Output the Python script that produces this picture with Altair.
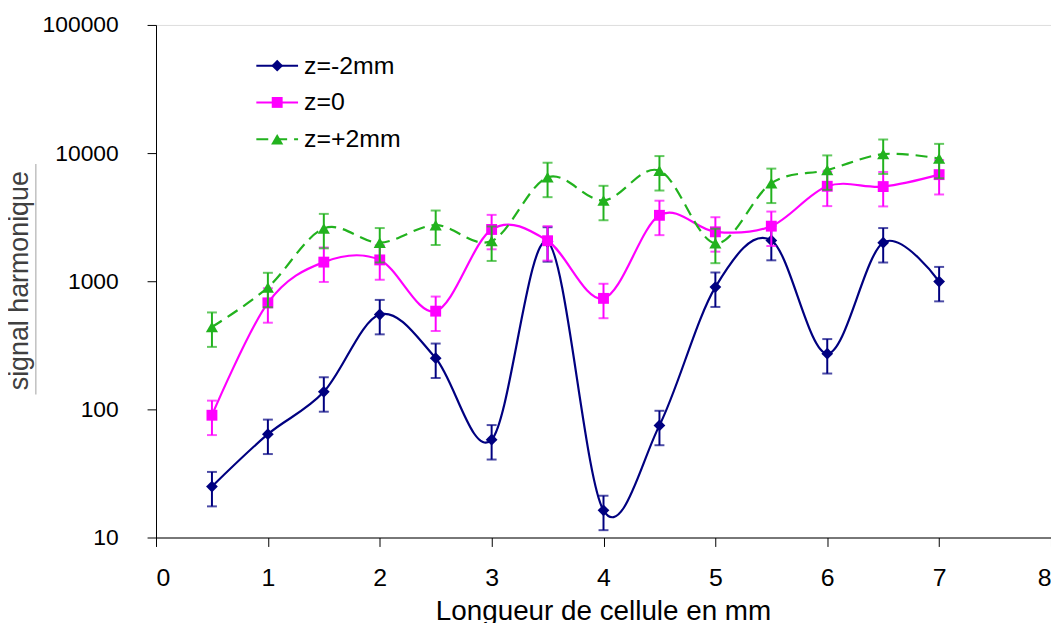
import altair as alt
import pandas as pd

# ---- data ----
x_mm = [0.5, 1, 1.5, 2, 2.5, 3, 3.5, 4, 4.5, 5, 5.5, 6, 6.5, 7]
z_minus2 = [25, 64, 137, 550, 251, 58, 2030, 16.3, 75, 900, 2080, 272, 2000, 995]
z_zero = [90, 678, 1410, 1467, 584, 2535, 2070, 735, 3270, 2430, 2690, 5510, 5480, 6790]
z_plus2 = [439, 895, 2580, 2000, 2740, 2057, 6470, 4273, 7290, 1976, 5820, 7380, 9820, 9080]

series_names = ["z=-2mm", "z=0", "z=+2mm"]
series_values = [z_minus2, z_zero, z_plus2]
colors = ["#000080", "#FF00FF", "#22B21E"]
shapes = ["diamond", "square", "triangle-up"]
marker_sizes = [140, 120, 150]
dashes = [None, None, [12, 7]]
REL_ERR = 0.30  # percentage error bars (30 %)

x_ticks = [0, 1, 2, 3, 4, 5, 6, 7, 8]
y_ticks = [10, 100, 1000, 10000, 100000]

FONT = "Liberation Sans"

xs = alt.Scale(domain=[0, 8], nice=False, zero=False)
ys = alt.Scale(type="log", domain=[10, 100000], nice=False)

x_axis = alt.Axis(
    values=x_ticks, format="d", grid=False, tickSize=9, tickColor="black",
    domainColor="black", labelFontSize=25, labelColor="black", labelPadding=19,
    labelFont=FONT, title="Longueur de cellule en mm", titleFontSize=28,
    titleFontWeight="normal", titleFont=FONT, titleColor="black", titleX=450,
    titleY=83, titleBaseline="alphabetic", titleAlign="center",
)
y_axis = alt.Axis(
    values=y_ticks, format="d", grid=False, tickSize=9, tickColor="black",
    domainColor="black", labelFontSize=23, labelColor="black", labelPadding=29,
    labelFont=FONT, title="signal harmonique", titleFontSize=27,
    titleFontWeight="normal", titleFont=FONT, titleColor="#404040",
    titleX=-129, titleY=257, titleAngle=270, titleBaseline="alphabetic",
    titleAlign="center",
)

layers = []
for i, (name, vals) in enumerate(zip(series_names, series_values)):
    df = pd.DataFrame({
        "x": x_mm,
        "y": vals,
        "lo": [v * (1 - REL_ERR) for v in vals],
        "hi": [v * (1 + REL_ERR) for v in vals],
    })
    base = alt.Chart(df)
    col = colors[i]
    err = base.mark_rule(color=col, strokeWidth=2).encode(
        x=alt.X("x:Q", scale=xs, axis=x_axis),
        y=alt.Y("lo:Q", scale=ys, axis=y_axis),
        y2="hi:Q",
    )
    cap_lo = base.mark_tick(color=col, orient="horizontal", size=10, thickness=2).encode(
        x=alt.X("x:Q", scale=xs), y=alt.Y("lo:Q", scale=ys))
    cap_hi = base.mark_tick(color=col, orient="horizontal", size=10, thickness=2).encode(
        x=alt.X("x:Q", scale=xs), y=alt.Y("hi:Q", scale=ys))
    line_kw = dict(color=col, strokeWidth=2.2, interpolate="cardinal", tension=0)
    if dashes[i]:
        line_kw["strokeDash"] = dashes[i]
    line = base.mark_line(**line_kw).encode(
        x=alt.X("x:Q", scale=xs), y=alt.Y("y:Q", scale=ys))
    pts = base.mark_point(shape=shapes[i], filled=True, size=marker_sizes[i],
                          color=col, opacity=1).encode(
        x=alt.X("x:Q", scale=xs), y=alt.Y("y:Q", scale=ys))
    layers += [err, cap_lo, cap_hi, line, pts]

# ---- legend (inside the plot, top-left) ----
legend_rows = [41, 78, 115]
for i, name in enumerate(series_names):
    ld = alt.Data(values=[{"label": name}])
    ly = legend_rows[i]
    rk = dict(color=colors[i], strokeWidth=2)
    if dashes[i]:
        rk["strokeDash"] = dashes[i]
    layers.append(alt.Chart(ld).mark_rule(**rk).encode(
        x=alt.value(101), x2=alt.value(143), y=alt.value(ly)))
    layers.append(alt.Chart(ld).mark_point(shape=shapes[i], filled=True,
                                           size=marker_sizes[i], color=colors[i],
                                           opacity=1).encode(
        x=alt.value(122), y=alt.value(ly)))
    layers.append(alt.Chart(ld).mark_text(align="left", baseline="middle", fontSize=25,
                                          font=FONT, color="black").encode(
        x=alt.value(149), y=alt.value(ly), text="label:N"))

# gray line beside the y title (as in the reference)
layers.append(alt.Chart(alt.Data(values=[{"a": 1}])).mark_rule(
    color="#c0c0c0", strokeWidth=1.5).encode(
    x=alt.value(-121), y=alt.value(140), y2=alt.value(372)))

chart = alt.layer(*layers).properties(
    width=901, height=516,
    padding={"left": 149, "top": 15, "right": 0, "bottom": 84},
    autosize=alt.AutoSizeParams(type="none"),
    background="white",
).configure_view(stroke="black", strokeWidth=1).configure(font=FONT)

chart.save("out.html", embed_options={"renderer": "svg", "actions": False})
